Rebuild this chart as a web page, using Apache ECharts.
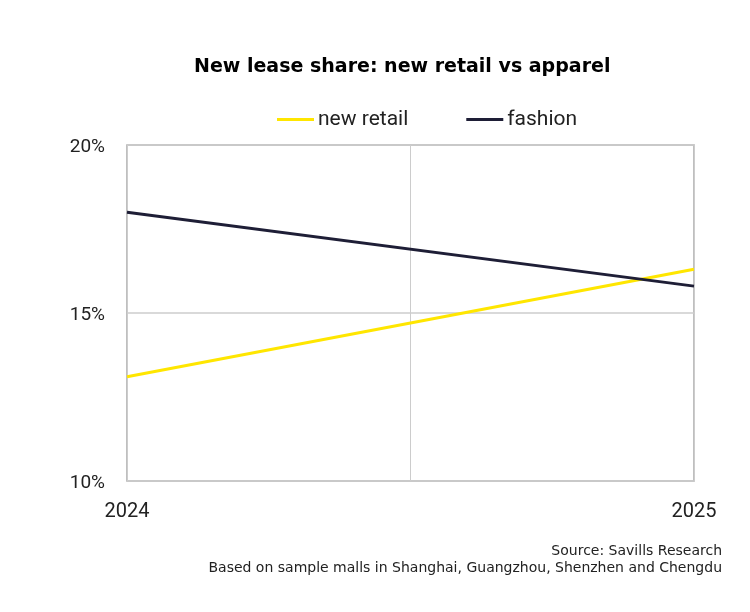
<!DOCTYPE html>
<html>
<head>
    <meta charset="utf-8">
    <title>New lease share</title>
    <script src="https://cdn.jsdelivr.net/npm/echarts@6/dist/echarts.min.js"></script>
    <style>
        html, body { margin: 0; padding: 0; background: #fff; }
        #main { width: 750px; height: 612px; }
    </style>
</head>
<body>
<div id="main"></div>
<script type="text/javascript">
    // 数据
    var years = [2024, 2025];
    var newRetail = [13.1, 16.3];
    var fashion = [18.0, 15.8];
    var yTicks = [10, 15, 20];

    function pairs(vals) {
        var out = [];
        for (var i = 0; i < years.length; i++) {
            out.push([years[i], vals[i]]);
        }
        return out;
    }

    var myChart = echarts.init(document.getElementById('main'));
    var option = {
        backgroundColor: '#fff',
        title: {
            text: 'New lease share: new retail vs apparel',
            left: 189,
            top: 53,
            textStyle: { fontFamily: 'DejaVu Sans', fontWeight: 'bold', fontSize: 19, color: '#000' }
        },
        legend: {
            top: 104,
            left: 272,
            icon: 'rect',
            itemWidth: 37,
            itemHeight: 3,
            itemGap: 58,
            textStyle: { fontFamily: 'Roboto', fontSize: 21, color: '#222', padding: [0, 0, 0, -1] },
            data: ['new retail', 'fashion']
        },
        grid: {
            left: 127, right: 56, top: 145, bottom: 131,
            show: true, borderColor: '#aaa', borderWidth: 1.5
        },
        xAxis: {
            type: 'value',
            min: years[0],
            max: years[years.length - 1],
            interval: 0.5,
            axisLine: { show: false },
            axisTick: { show: false },
            splitLine: { show: true, lineStyle: { color: '#ccc', width: 1 } },
            axisLabel: {
                margin: 21,
                fontFamily: 'Roboto', fontSize: 20, color: '#222',
                formatter: function (v) { return v % 1 === 0 ? String(v) : ''; }
            }
        },
        yAxis: {
            type: 'value',
            min: yTicks[0],
            max: yTicks[yTicks.length - 1],
            interval: 5,
            axisLine: { show: false },
            axisTick: { show: false },
            splitLine: { show: true, lineStyle: { color: '#ccc', width: 1.5 } },
            axisLabel: {
                margin: 22,
                fontFamily: 'Roboto', fontSize: 19, color: '#222',
                verticalAlign: 'top',
                padding: [-7, 0, 0, 0],
                formatter: '{value}%'
            }
        },
        series: [
            {
                name: 'new retail',
                type: 'line',
                symbol: 'none',
                data: pairs(newRetail),
                lineStyle: { color: '#FFE600', width: 3 },
                itemStyle: { color: '#FFE600' }
            },
            {
                name: 'fashion',
                type: 'line',
                symbol: 'none',
                data: pairs(fashion),
                lineStyle: { color: '#1E1E36', width: 3 },
                itemStyle: { color: '#1E1E36' }
            }
        ],
        graphic: [
            {
                type: 'text', right: 28, top: 544,
                style: { text: 'Source: Savills Research', fontFamily: 'DejaVu Sans', fontSize: 14, fill: '#222', textAlign: 'right' }
            },
            {
                type: 'text', right: 28, top: 561,
                style: { text: 'Based on sample malls in Shanghai, Guangzhou, Shenzhen and Chengdu', fontFamily: 'DejaVu Sans', fontSize: 14, fill: '#222', textAlign: 'right' }
            }
        ]
    };
    myChart.setOption(option);
</script>
</body>
</html>
